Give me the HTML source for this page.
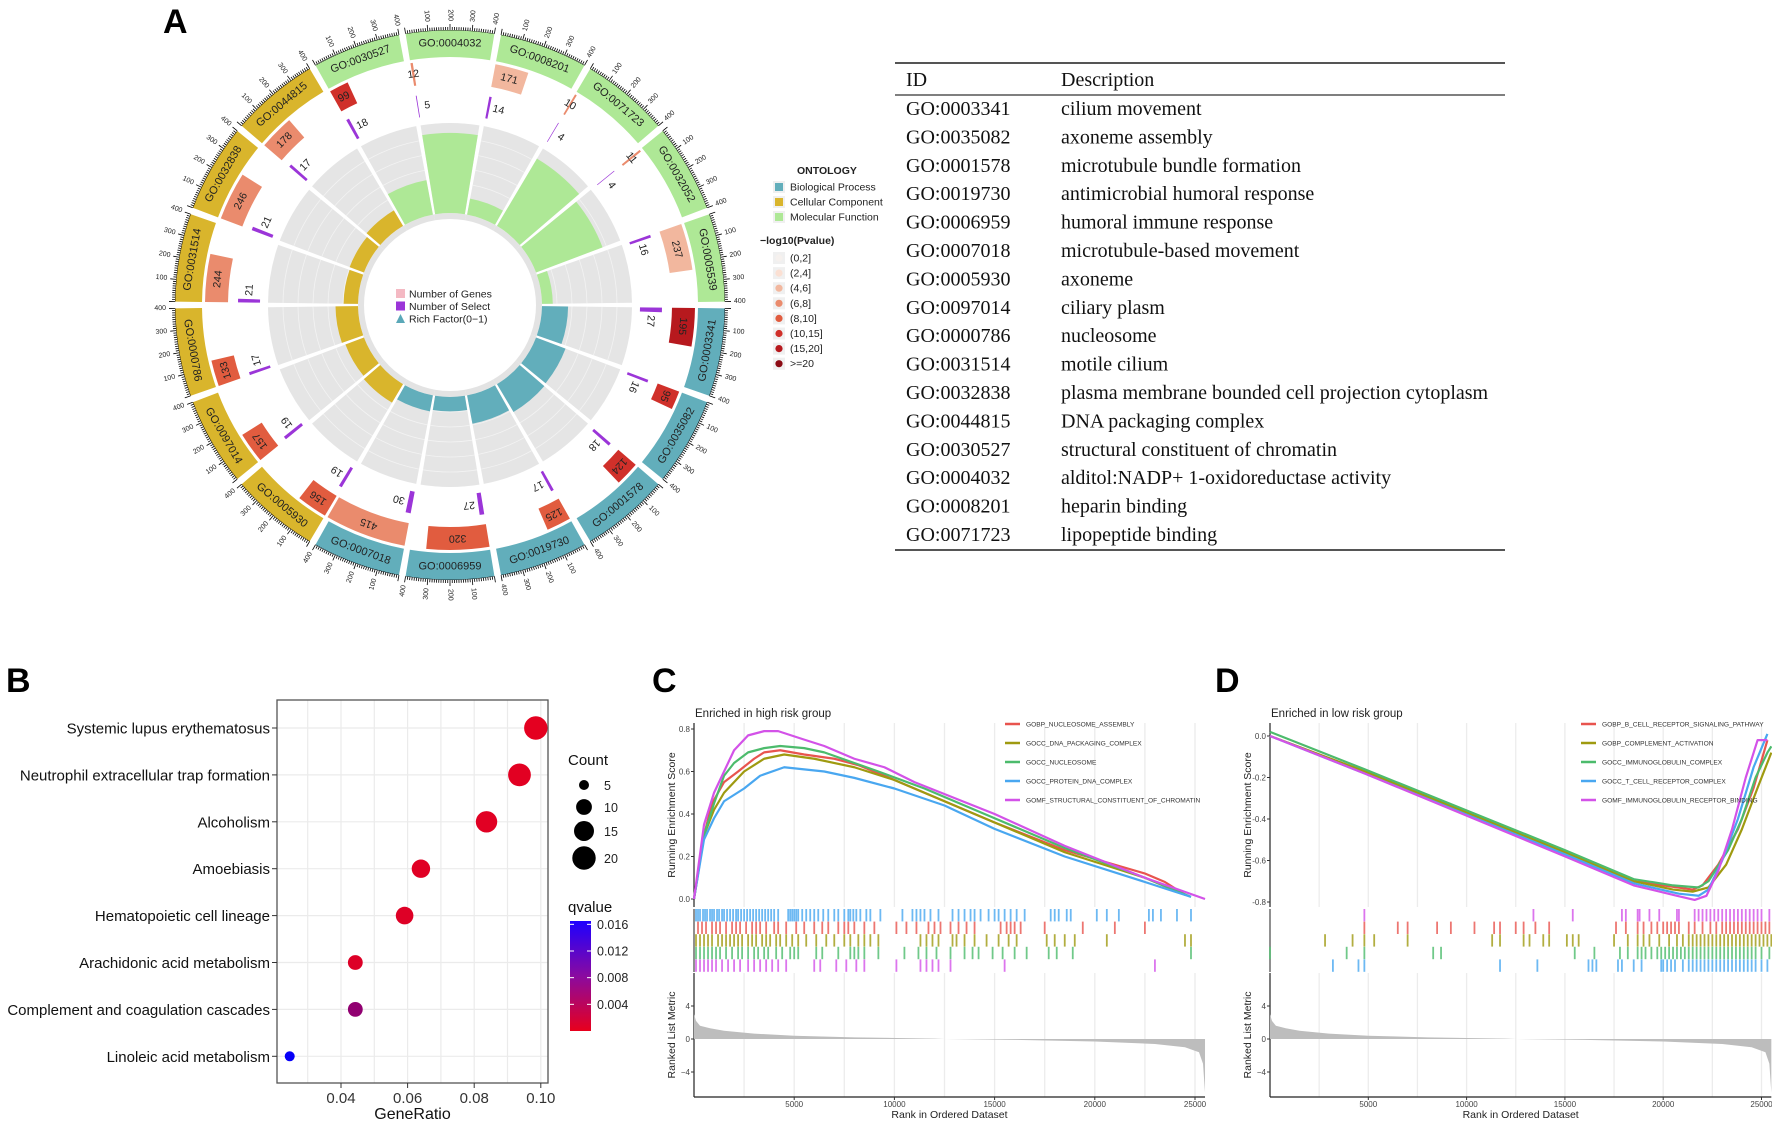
<!DOCTYPE html>
<html><head><meta charset="utf-8"><style>
html,body{margin:0;padding:0;background:#fff;}
svg{display:block;font-family:"Liberation Sans",Arial,sans-serif;}
</style></head><body>
<svg id="fig" width="1772" height="1123" viewBox="0 0 1772 1123" xmlns="http://www.w3.org/2000/svg">
<text x="163" y="33" font-size="34" font-weight="bold">A</text>
<text x="6" y="692" font-size="34" font-weight="bold">B</text>
<text x="652" y="692" font-size="34" font-weight="bold">C</text>
<text x="1215" y="692" font-size="34" font-weight="bold">D</text>
<g id="circos"></g>
<g id="table"></g>
<g id="dot"></g>
<g id="gseaC"></g>
<g id="gseaD"></g>
</svg>
<script>
// ---------- Panel A data ----------
const goIds=["GO:0003341","GO:0035082","GO:0001578","GO:0019730","GO:0006959","GO:0007018","GO:0005930","GO:0097014","GO:0000786","GO:0031514","GO:0032838","GO:0044815","GO:0030527","GO:0004032","GO:0008201","GO:0071723","GO:0032052","GO:0005539"];
const goOntology=["BP","BP","BP","BP","BP","BP","CC","CC","CC","CC","CC","CC","MF","MF","MF","MF","MF","MF"];
const geneCounts=[195,95,124,125,320,415,156,157,133,244,246,178,99,12,171,10,11,237];
const selectCounts=[27,16,18,17,27,30,19,19,17,21,21,17,18,5,14,4,4,16];
const richFactor=[0.29,0.35,0.36,0.32,0.16,0.18,0.24,0.22,0.25,0.16,0.17,0.2,0.39,0.89,0.18,0.87,0.79,0.12];
const pBin=[6,5,5,4,4,3,4,4,4,3,3,3,5,3,2,3,3,2];
const pLabels=["(0,2]","(2,4]","(4,6]","(6,8]","(8,10]","(10,15]","(15,20]",">=20"];
const tableIds=["GO:0003341","GO:0035082","GO:0001578","GO:0019730","GO:0006959","GO:0007018","GO:0005930","GO:0097014","GO:0000786","GO:0031514","GO:0032838","GO:0044815","GO:0030527","GO:0004032","GO:0008201","GO:0071723"];
const tableDesc=["cilium movement","axoneme assembly","microtubule bundle formation","antimicrobial humoral response","humoral immune response","microtubule-based movement","axoneme","ciliary plasm","nucleosome","motile cilium","plasma membrane bounded cell projection cytoplasm","DNA packaging complex","structural constituent of chromatin","alditol:NADP+ 1-oxidoreductase activity","heparin binding","lipopeptide binding"];
// ---------- Panel B data ----------
const keggTerms=["Systemic lupus erythematosus","Neutrophil extracellular trap formation","Alcoholism","Amoebiasis","Hematopoietic cell lineage","Arachidonic acid metabolism","Complement and coagulation cascades","Linoleic acid metabolism"];
const geneRatio=[0.0985,0.0936,0.0837,0.064,0.0591,0.0443,0.0443,0.0246];
const keggCount=[20,19,17,13,12,9,9,5];
const keggQ=[0.0003,0.0004,0.0005,0.0006,0.0007,0.0008,0.0062,0.0160];
const xTicksB=[0.04,0.06,0.08,0.10];
const countLegend=[5,10,15,20];
const qTicks=[0.016,0.012,0.008,0.004];
// ---------- Panel C data ----------
const cNames=["GOBP_NUCLEOSOME_ASSEMBLY","GOCC_DNA_PACKAGING_COMPLEX","GOCC_NUCLEOSOME","GOCC_PROTEIN_DNA_COMPLEX","GOMF_STRUCTURAL_CONSTITUENT_OF_CHROMATIN"];
const cRedRank=[0,500,900,1500,2200,3000,3500,4300,5500,7000,8200,9500,11500,15000,18500,22500,23500,24500];
const cRedES=[0,0.3,0.45,0.55,0.6,0.66,0.69,0.7,0.68,0.66,0.63,0.58,0.5,0.36,0.23,0.12,0.08,0.02];
const cOliveRank=[0,500,1000,1500,2500,3500,4500,6000,8000,10000,12000,15000,18500,22500,24500];
const cOliveES=[0,0.3,0.42,0.5,0.6,0.66,0.68,0.66,0.62,0.56,0.48,0.36,0.22,0.1,0.02];
const cGreenRank=[0,500,1000,1500,2000,2700,3500,4300,5500,6500,8000,9200,11500,15000,18500,22500,24800];
const cGreenES=[0,0.3,0.45,0.58,0.64,0.69,0.71,0.72,0.71,0.69,0.64,0.6,0.52,0.38,0.24,0.1,0.01];
const cBlueRank=[0,500,1000,1500,2500,3300,4500,6500,8000,10000,12500,15000,18500,22500,24800];
const cBlueES=[0,0.28,0.38,0.46,0.52,0.58,0.62,0.6,0.57,0.52,0.44,0.33,0.2,0.08,0.01];
const cPurpleRank=[0,500,1000,1500,2000,2700,3500,4200,5500,6500,8000,9500,11000,15000,18500,22500,25500];
const cPurpleES=[0,0.35,0.5,0.6,0.7,0.77,0.79,0.79,0.75,0.72,0.66,0.62,0.55,0.4,0.25,0.1,0];
const cBlueHits=[100,200,300,450,550,650,800,900,1000,1150,1250,1400,1500,1650,1800,1950,2100,2200,2350,2500,2650,2800,2950,3100,3250,3400,3550,3700,3850,4000,4200,4700,4800,4900,5000,5100,5200,5400,5600,5800,6000,6200,6450,6700,7000,7200,7500,7700,7800,7950,8100,8300,8600,8800,9300,10400,10900,11100,11300,11500,11800,12200,12900,13200,13500,13800,14000,14300,14700,15000,15200,15500,15800,16100,16500,17800,18000,18200,18600,18800,20100,20600,21200,22700,22900,23300,24100,24800];
const cRedHits=[200,400,600,900,1100,1300,1600,1900,2100,2300,2600,2900,3100,3300,3600,4000,4200,4600,5100,5500,6000,6400,6700,7200,7500,7700,8000,8500,9000,10100,10600,11100,11700,12000,12300,12800,13200,13600,14000,15300,15600,15800,16000,16300,17500,19400,21000,22500];
const cOliveHits=[100,300,500,700,900,1200,1400,1600,1800,2000,2200,2400,2700,2900,3100,3400,3600,3800,4100,4300,4600,4900,5200,5600,6100,6600,7000,7500,7800,8200,8500,8800,9200,11300,11600,11900,12200,12900,13100,13500,14000,14600,15200,15700,16100,17600,18000,18500,19000,20600,24500,24800];
const cGreenHits=[100,300,500,700,900,1100,1300,1600,1900,2200,2400,2700,3000,3200,3500,3700,4100,4400,4800,5000,5200,6100,6400,7200,7800,8000,8200,8500,9200,10500,11200,11600,12100,12800,13500,13900,14200,14900,15400,16000,16600,17700,18100,18900,24800];
const cPurpleHits=[100,300,500,700,900,1100,1400,1700,2000,2300,2700,3000,3300,3600,3900,4200,4600,6000,6300,7100,7600,8100,8500,10100,11300,11600,11900,12200,12800,15500,23000];
// ---------- Panel D data ----------
const dNames=["GOBP_B_CELL_RECEPTOR_SIGNALING_PATHWAY","GOBP_COMPLEMENT_ACTIVATION","GOCC_IMMUNOGLOBULIN_COMPLEX","GOCC_T_CELL_RECEPTOR_COMPLEX","GOMF_IMMUNOGLOBULIN_RECEPTOR_BINDING"];
const dRedRank=[0,4800,15000,18500,20000,21500,22000,22800,23800,24600,25300];
const dRedES=[0,-0.17,-0.56,-0.7,-0.72,-0.74,-0.72,-0.62,-0.45,-0.25,-0.02];
const dOliveRank=[0,2800,4800,15000,18500,20500,21500,22300,23200,24000,24800,25500];
const dOliveES=[0,-0.1,-0.17,-0.56,-0.7,-0.74,-0.75,-0.73,-0.62,-0.45,-0.25,-0.08];
const dGreenRank=[0,4800,15000,18500,20500,21800,22300,23300,24000,24700,25300,25500];
const dGreenES=[0.02,-0.16,-0.55,-0.69,-0.72,-0.73,-0.7,-0.55,-0.4,-0.2,-0.08,-0.05];
const dBlueRank=[0,4800,15000,18500,20800,21800,22300,23000,23800,24600,25300];
const dBlueES=[0,-0.18,-0.57,-0.71,-0.76,-0.77,-0.74,-0.6,-0.4,-0.15,0.01];
const dPurpleRank=[0,4800,15000,18500,20700,21600,22200,22800,23500,24200,24800,25300];
const dPurpleES=[0,-0.18,-0.58,-0.72,-0.77,-0.79,-0.77,-0.65,-0.45,-0.2,-0.02,-0.02];
const dPurpleHits=[4800,13400,15400,17900,18100,18700,18800,19300,19800,20700,20800,21600,21800,22000,22200,22400,22600,22800,23000,23200,23400,23600,23800,24000,24200,24400,24600,24800,25000,25400];
const dRedHits=[4800,6500,7000,8500,9200,10400,11400,11700,12500,12900,13500,14200,17600,18100,18700,19000,19400,19700,20000,20200,20400,20600,20800,21300,21600,22000,22400,22700,23000,23200,23400,23600,23800,24000,24200,24400,24600,24800,25000,25200,25400];
const dOliveHits=[2800,4200,4800,5300,7000,11300,11700,12900,13200,13900,14200,15100,15400,15700,17500,18200,18700,19000,19300,19800,20300,20700,21000,21300,21500,21700,21900,22100,22300,22500,22700,22900,23100,23300,23500,23700,23900,24100,24300,24500,24700,24900,25100,25300,25500];
const dGreenHits=[0,3900,4800,8300,8700,15500,16500,17800,18200,18700,18900,19100,19400,19700,19900,20100,20300,20500,20700,20900,21100,21300,21500,21700,21900,22100,22300,22500,22700,22900,23100,23300,23500,23700,23900,24100,24300,24500,24700,25000,25400];
const dBlueHits=[3200,4500,4800,11700,13600,16200,16400,16600,17700,17900,18500,18900,19900,20000,20200,20400,20600,21000,21300,21500,21700,21900,22100,22300,22500,22700,22900,23100,23300,23500,23700,23900,24100,24300,24500,24700,25000,25300];
// ranked list metric (shared)
const metricRank=[0,100,300,800,1500,3000,5000,8000,12000,12500,16000,20000,23000,24500,25200,25400,25500];
const metricVal=[3.0,2.2,1.6,1.3,1.0,0.65,0.4,0.2,0.05,0,-0.1,-0.3,-0.6,-1.0,-1.6,-3.0,-6.5];
const rankTicks=[5000,10000,15000,20000,25000];

const NS="http://www.w3.org/2000/svg";
function mk(tag,attrs,parent){const e=document.createElementNS(NS,tag);for(const k in attrs)e.setAttribute(k,attrs[k]);parent.appendChild(e);return e;}
function txt(s,attrs,parent){const e=mk("text",attrs,parent);e.textContent=s;return e;}

// ================= Panel A circos =================
(function(){
const g=document.getElementById("circos");
const cx=450,cy=305;
const ontColor={BP:"#62aebb",CC:"#d9b52c",MF:"#aee896"};
const pColors=["#f6f1ee","#fbe0d3","#f2b79e","#ea8b6d","#e15c3f","#d0302a","#b7191e","#8c0b14"];
const secSpan=20,gap=1.4;
const rad=a=>a*Math.PI/180;
const pt=(r,a)=>[cx+r*Math.cos(rad(a)),cy+r*Math.sin(rad(a))];
function arc(r0,r1,a0,a1){const p1=pt(r1,a0),p2=pt(r1,a1),p3=pt(r0,a1),p4=pt(r0,a0);const lg=(a1-a0)>180?1:0;
return `M${p1[0]},${p1[1]} A${r1},${r1} 0 ${lg} 1 ${p2[0]},${p2[1]} L${p3[0]},${p3[1]} A${r0},${r0} 0 ${lg} 0 ${p4[0]},${p4[1]}Z`;}
const unit=(secSpan-gap)/400;
goIds.forEach((id,i)=>{
 const a0=i*secSpan+gap/2,a1=(i+1)*secSpan-gap/2,am=(a0+a1)/2;
 const band=mk("path",{d:arc(248,275,a0,a1),fill:ontColor[goOntology[i]]},g);
 
 
 const [tx,ty]=pt(261.5,am);
 const inBottom=(am>0&&am<180);
 const rot=inBottom?am-90:am+90;
 const bl=txt(id,{x:tx,y:ty,"font-size":11,"text-anchor":"middle","dominant-baseline":"central",fill:"#222",transform:`rotate(${rot} ${tx} ${ty})`},g);
 
 
 for(let v=0;v<=400;v+=10){const a=a0+v*unit;const maj=v%100===0;const p=pt(275,a),q=pt(maj?281:278,a);
  mk("line",{x1:p[0],y1:p[1],x2:q[0],y2:q[1],stroke:"#000","stroke-width":0.8},g);
  if(maj&&v>0){const [lx,ly]=pt(284,a);const right=Math.cos(rad(a))>=0;
   const tl=txt(String(v),{x:lx,y:ly,"font-size":7,"dominant-baseline":"central","text-anchor":right?"start":"end",fill:"#222",transform:`rotate(${right?a:a+180} ${lx} ${ly})`},g);
   
   }
 }
 mk("path",{d:arc(274.6,275,a0,a1),fill:"#000"},g);
 const ga1=a0+geneCounts[i]*unit;
 const gb=mk("path",{d:arc(222,245,a0,ga1),fill:pColors[pBin[i]]},g);
 
 
 const gm=(a0+ga1)/2;const [gx,gy]=pt(233.5,gm);
 const gl=txt(String(geneCounts[i]),{x:gx,y:gy,"font-size":10.5,"text-anchor":"middle","dominant-baseline":"central",fill:"#222",transform:`rotate(${gm+90} ${gx} ${gy})`},g);
 
 
 const sa1=a0+selectCounts[i]*unit;
 const sb=mk("path",{d:arc(190,212,a0,sa1),fill:"#9b35d8"},g);
 
 
 const sm=sa1+2.6;const [sx,sy]=pt(201,sm);
 const sl=txt(String(selectCounts[i]),{x:sx,y:sy,"font-size":10.5,"text-anchor":"middle","dominant-baseline":"central",fill:"#222",transform:`rotate(${sm+90} ${sx} ${sy})`},g);
 
 
 mk("path",{d:arc(86,92,a0-gap/2,a1+gap/2),fill:"#e3e3e3"},g);
 mk("path",{d:arc(92,182,a0,a1),fill:"#e5e5e5"},g);
 for(let k=1;k<6;k++){mk("path",{d:arc(92+k*15-0.4,92+k*15+0.4,a0,a1),fill:"#f3f3f3"},g);}
 const rb=mk("path",{d:arc(92,92+Math.min(richFactor[i],1.0)*90,a0,a1),fill:ontColor[goOntology[i]]},g);
 
 
});
const cl=[["Number of Genes","#f4b9c3","sq"],["Number of Select","#9b35d8","sq"],["Rich Factor(0\u22121)","#5aa8b8","tri"]];
cl.forEach((c,k)=>{const y=294+k*12.5;
 if(c[2]==="sq")mk("rect",{x:396,y:y-5,width:9,height:9,fill:c[1]},g);else mk("path",{d:`M396,${y+4} L400.5,${y-5} L405,${y+4}Z`,fill:c[1]},g);
 const t=txt(c[0],{x:409,y:y+3.5,"font-size":10.5,fill:"#222"},g);
 
 });
const lt=txt("ONTOLOGY",{x:797,y:174,"font-size":10.5,"font-weight":"bold",fill:"#222"},g);


[["Biological Process","BP"],["Cellular Component","CC"],["Molecular Function","MF"]].forEach((o,k)=>{const y=187+k*15;
 mk("rect",{x:773,y:y-6,width:12,height:12,fill:"#f0f0f0"},g);mk("rect",{x:775,y:y-4,width:8,height:8,fill:ontColor[o[1]]},g);
 const t=txt(o[0],{x:790,y:y+3.5,"font-size":10.5,fill:"#222"},g);
 
 });
const pt2=txt("\u2212log10(Pvalue)",{x:760,y:244,"font-size":10.5,"font-weight":"bold",fill:"#222"},g);


pLabels.forEach((l,k)=>{const y=258+k*15.1;
 mk("rect",{x:773,y:y-6,width:12,height:12,fill:"#f0f0f0"},g);mk("circle",{cx:779,cy:y,r:3.6,fill:pColors[k]},g);
 const t=txt(l,{x:790,y:y+3.5,"font-size":10.5,fill:"#222"},g);
 
 });
})();

// ================= Table =================
(function(){
const g=document.getElementById("table");
const x0=895,x1=1505;
mk("line",{x1:x0,y1:63,x2:x1,y2:63,stroke:"#555","stroke-width":2},g);
mk("line",{x1:x0,y1:95,x2:x1,y2:95,stroke:"#555","stroke-width":1.6},g);
mk("line",{x1:x0,y1:550,x2:x1,y2:550,stroke:"#555","stroke-width":2},g);
const f='"Liberation Serif","Times New Roman",serif';
const h1=txt("ID",{x:906,y:86,"font-size":20,"font-family":f,fill:"#111"},g);


const h2=txt("Description",{x:1061,y:86,"font-size":20,"font-family":f,fill:"#111"},g);


tableIds.forEach((id,i)=>{const y=115+i*28.4;
 const a=txt(id,{x:906,y:y,"font-size":20,"font-family":f,fill:"#111"},g);
 
 
 const b=txt(tableDesc[i],{x:1061,y:y,"font-size":20,"font-family":f,fill:"#111"},g);
 
 });
})();

// ================= Panel B dot plot =================
(function(){
const g=document.getElementById("dot");
const L=277,R=548,T=700,B=1083;
const xs=v=>341+(v-0.04)*3330;
const ys=i=>728+i*46.9;
const rs=c=>Math.sqrt(Math.max(1,-12.3+7.47*c));
const qc=q=>{const t=Math.min(1,q/0.0165);const r=Math.round(232*(1-t)),gg=0,b=Math.round(28+(255-28)*t);return `rgb(${r},${gg},${b})`;};
for(let v=0.03;v<=0.1001;v+=0.01)mk("line",{x1:xs(v),y1:T,x2:xs(v),y2:B,stroke:"#ebebeb","stroke-width":1.2},g);
keggTerms.forEach((t,i)=>mk("line",{x1:L,y1:ys(i),x2:R,y2:ys(i),stroke:"#ebebeb","stroke-width":1.2},g));
mk("rect",{x:L,y:T,width:R-L,height:B-T,fill:"none",stroke:"#555","stroke-width":1.3},g);
keggTerms.forEach((t,i)=>{
 mk("line",{x1:L-5,y1:ys(i),x2:L,y2:ys(i),stroke:"#333"},g);
 const l=txt(t,{x:L-7,y:ys(i)+5.5,"font-size":15,"text-anchor":"end",fill:"#111"},g);
 
 
 const c=mk("circle",{cx:xs(geneRatio[i]),cy:ys(i),r:rs(keggCount[i]),fill:qc(keggQ[i])},g);
 
 });
xTicksB.forEach(v=>{mk("line",{x1:xs(v),y1:B,x2:xs(v),y2:B+5,stroke:"#333"},g);
 const l=txt(v.toFixed(2),{x:xs(v),y:B+20,"font-size":15,"text-anchor":"middle",fill:"#333"},g);
 
 });
const xt=txt("GeneRatio",{x:(L+R)/2,y:1119,"font-size":16,"text-anchor":"middle",fill:"#111"},g);


const ct=txt("Count",{x:568,y:765,"font-size":15,fill:"#111"},g);


const cy0=[785,807,831,858];
countLegend.forEach((c,k)=>{mk("circle",{cx:584,cy:cy0[k],r:rs(c),fill:"#000"},g);
 const l=txt(String(c),{x:604,y:cy0[k]+5,"font-size":12.5,fill:"#222"},g);
 
 });
const qt=txt("qvalue",{x:568,y:912,"font-size":15,fill:"#111"},g);


const defs=mk("defs",{},g);const lg=mk("linearGradient",{id:"qgrad",x1:0,y1:0,x2:0,y2:1},defs);
mk("stop",{offset:"0","stop-color":"#1e00ff"},lg);mk("stop",{offset:"0.5","stop-color":"#8a0aa0"},lg);mk("stop",{offset:"1","stop-color":"#e8001c"},lg);
const cb=mk("rect",{x:570,y:921,width:21,height:110,fill:"url(#qgrad)"},g);


const qy=q=>921+(0.0165-q)/0.0165*110;
qTicks.forEach(q=>{mk("line",{x1:570,y1:qy(q),x2:574,y2:qy(q),stroke:"#fff"},g);mk("line",{x1:587,y1:qy(q),x2:591,y2:qy(q),stroke:"#fff"},g);
 const l=txt(q.toFixed(3),{x:597,y:qy(q)+4.5,"font-size":12.5,fill:"#222"},g);
 
 });
})();

// ================= GSEA panels =================
const gseaColors=["#e8544e","#9f9a10","#4cbb6c","#49a7f0","#d352e8"];
function drawGsea(cfg){
 const g=document.getElementById(cfg.id);
 const xs=r=>cfg.x0+r*cfg.xk;
 const ys=v=>cfg.y0-v*cfg.yk;
 const ym=v=>1039-v*8.25;
 const R=xs(25500);
 const t=txt(cfg.title,{x:cfg.x0+1,y:717,"font-size":11.5,fill:"#222"},g);
 
 
 for(let r=2500;r<=25000;r+=2500){mk("line",{x1:xs(r),y1:723,x2:xs(r),y2:907,stroke:"#ececec","stroke-width":1.3},g);mk("line",{x1:xs(r),y1:973,x2:xs(r),y2:1097,stroke:"#ececec","stroke-width":1.3},g);}
 mk("line",{x1:cfg.x0,y1:723,x2:cfg.x0,y2:907,stroke:"#222","stroke-width":1.2},g);
 mk("line",{x1:cfg.x0,y1:909,x2:cfg.x0,y2:972,stroke:"#222","stroke-width":1},g);
 mk("line",{x1:cfg.x0,y1:973,x2:cfg.x0,y2:1097,stroke:"#222","stroke-width":1.2},g);
 mk("line",{x1:cfg.x0,y1:1097,x2:R,y2:1097,stroke:"#222","stroke-width":1.2},g);
 cfg.esTicks.forEach(v=>{mk("line",{x1:cfg.x0-3,y1:ys(v),x2:cfg.x0,y2:ys(v),stroke:"#333"},g);
  const l=txt(v.toFixed(1),{x:cfg.x0-4,y:ys(v)+3,"font-size":8,"text-anchor":"end",fill:"#444"},g);
  
  });
 [4,0,-4].forEach(v=>{mk("line",{x1:cfg.x0-3,y1:ym(v),x2:cfg.x0,y2:ym(v),stroke:"#333"},g);
  const l=txt(v<0?"\u2212"+(-v):String(v),{x:cfg.x0-4,y:ym(v)+3,"font-size":8,"text-anchor":"end",fill:"#444"},g);
  
  });
 rankTicks.forEach(r=>{mk("line",{x1:xs(r),y1:1097,x2:xs(r),y2:1100,stroke:"#333"},g);
  const l=txt(String(r),{x:xs(r),y:1107,"font-size":8,"text-anchor":"middle",fill:"#444"},g);
  
  });
 const xl=txt("Rank in Ordered Dataset",{x:(cfg.x0+R)/2,y:1118,"font-size":10.5,"text-anchor":"middle",fill:"#222"},g);
 
 
 const yl=txt("Running Enrichment Score",{x:cfg.x0-19,y:815,"font-size":10.5,"text-anchor":"middle",fill:"#222",transform:`rotate(-90 ${cfg.x0-19} 815)`},g);
 
 
 const yl2=txt("Ranked List Metric",{x:cfg.x0-19,y:1035,"font-size":10.5,"text-anchor":"middle",fill:"#222",transform:`rotate(-90 ${cfg.x0-19} 1035)`},g);
 
 
 let d=`M${xs(metricRank[0])},${ym(0)}`;metricRank.forEach((r,k)=>{d+=` L${xs(r)},${ym(metricVal[k])}`;});d+=` L${xs(metricRank[metricRank.length-1])},${ym(0)}Z`;
 const ar=mk("path",{d:d,fill:"#bdbdbd"},g);
 
 
 cfg.hits.forEach((h,row)=>{const ci=cfg.hitOrder[row];const y0=909+row*12.6;
  h.forEach(r=>{const ln=mk("line",{x1:xs(r),y1:y0,x2:xs(r),y2:y0+12.4,stroke:gseaColors[ci],"stroke-width":1.8,"stroke-opacity":0.8},g);
   
   });});
 cfg.curves.forEach((c,k)=>{const p=c[0].map((r,j)=>`${xs(r)},${ys(c[1][j])}`).join(" ");
  const pl=mk("polyline",{points:p,fill:"none",stroke:gseaColors[k],"stroke-width":2.2,"stroke-linejoin":"round"},g);
  
  });
 cfg.names.forEach((n,k)=>{const y=724+k*19;
  mk("line",{x1:cfg.lx,y1:y,x2:cfg.lx+15,y2:y,stroke:gseaColors[k],"stroke-width":2.5},g);
  const l=txt(n,{x:cfg.lx+21,y:y+2.6,"font-size":6.6,fill:"#333"},g);
  
  });
}
drawGsea({id:"gseaC",title:"Enriched in high risk group",x0:694,xk:0.02004,y0:899,yk:212.5,esTicks:[0,0.2,0.4,0.6,0.8],lx:1005,names:cNames,
 curves:[[cRedRank,cRedES],[cOliveRank,cOliveES],[cGreenRank,cGreenES],[cBlueRank,cBlueES],[cPurpleRank,cPurpleES]],
 hits:[cBlueHits,cRedHits,cOliveHits,cGreenHits,cPurpleHits],hitOrder:[3,0,1,2,4]});
drawGsea({id:"gseaD",title:"Enriched in low risk group",x0:1270,xk:0.01966,y0:736,yk:207.5,esTicks:[0,-0.2,-0.4,-0.6,-0.8],lx:1581,names:dNames,
 curves:[[dRedRank,dRedES],[dOliveRank,dOliveES],[dGreenRank,dGreenES],[dBlueRank,dBlueES],[dPurpleRank,dPurpleES]],
 hits:[dPurpleHits,dRedHits,dOliveHits,dGreenHits,dBlueHits],hitOrder:[4,0,1,2,3]});
</script>
</body></html>
